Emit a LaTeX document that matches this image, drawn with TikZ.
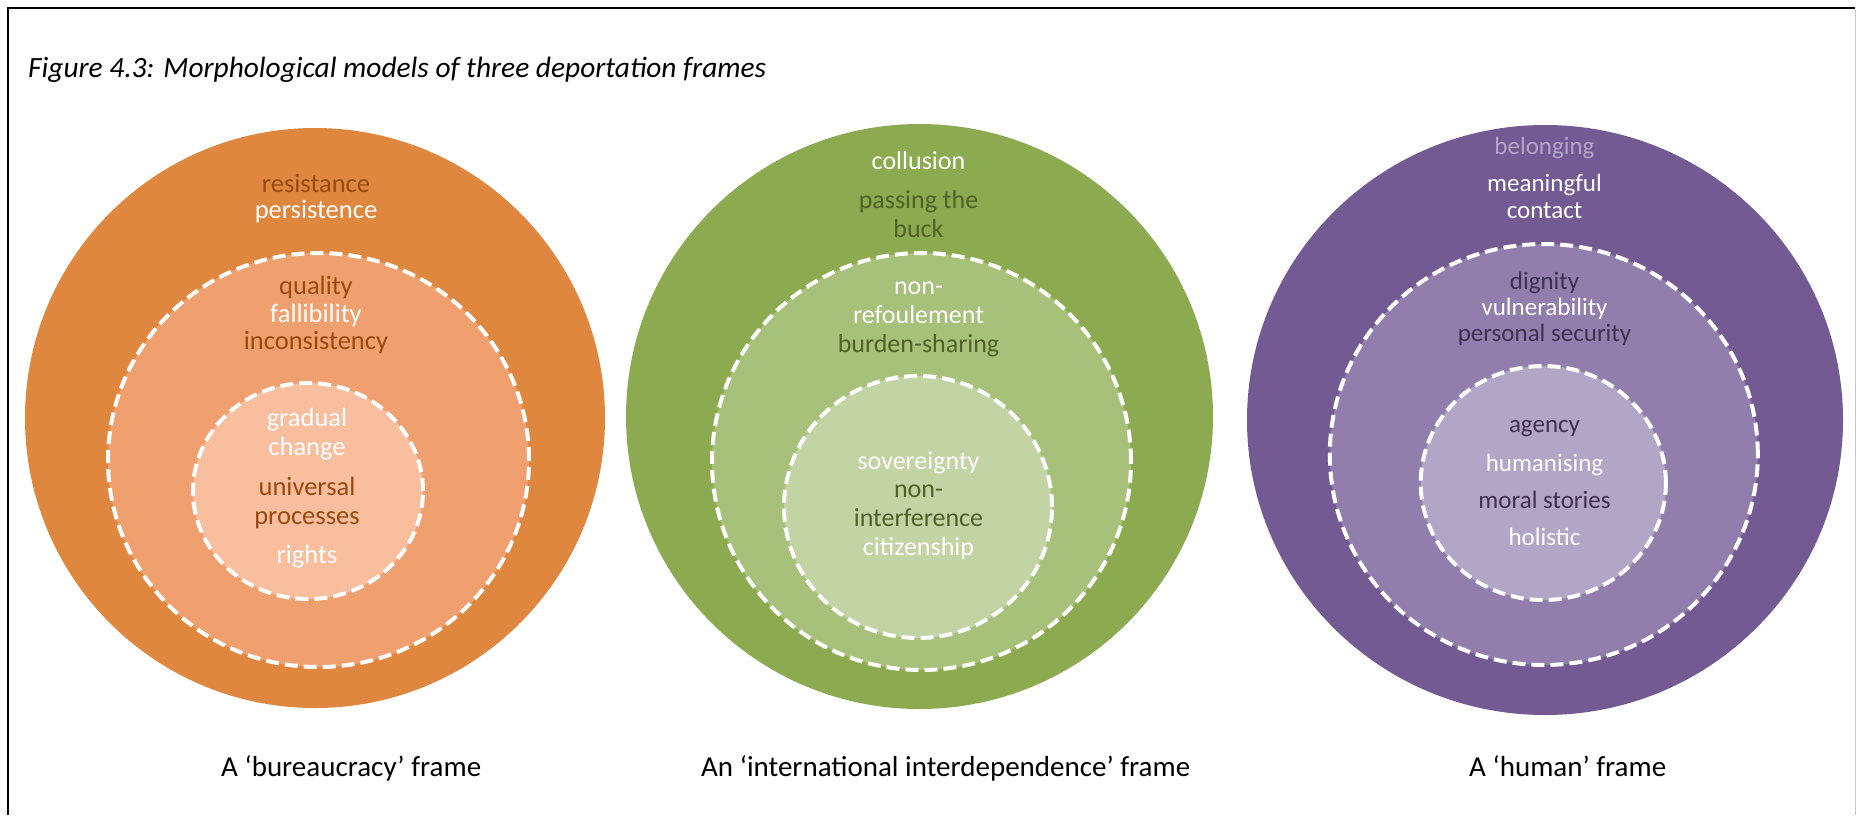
\documentclass[tikz,border=0pt]{standalone}
\usepackage{fontspec}
\setmainfont{Carlito}
% palette
\definecolor{orOuter}{HTML}{E0873F}
\definecolor{orMid}{HTML}{EFA06E}
\definecolor{orIn}{HTML}{F8BE9D}
\definecolor{orDark}{HTML}{9A4A10}
\definecolor{grOuter}{HTML}{8CAA50}
\definecolor{grMid}{HTML}{A7C07A}
\definecolor{grIn}{HTML}{C2D3A4}
\definecolor{grDark}{HTML}{4F6228}
\definecolor{puOuter}{HTML}{735A92}
\definecolor{puMid}{HTML}{917EAD}
\definecolor{puIn}{HTML}{B2A6C7}
\definecolor{puDark}{HTML}{3F3151}
\definecolor{puLight}{HTML}{B4A3C9}
\begin{document}
\begin{tikzpicture}[x=1pt,y=-1pt,
  lbl/.style={inner sep=0pt, align=center, font=\fontsize{26}{28.5}\selectfont},
  lblB/.style={lbl, font=\fontsize{26.5}{29}\selectfont},
  lblH/.style={lbl, font=\fontsize{25}{27}\selectfont},
  ring/.style={draw=white, line width=4pt, dash pattern=on 13pt off 6pt},
  captext/.style={inner sep=0pt, anchor=base west, font=\fontsize{29}{34}\selectfont}]
\useasboundingbox (0,0) rectangle (1856,815);
\fill[white] (0,0) rectangle (1856,815);

% page frame
\draw[black, line width=2.5pt] (8,815) -- (8,8) -- (1855,8);
\draw[black!22, line width=1pt] (1855,9.5) -- (1855,815);

% title
\node[captext, font=\fontsize{29.4}{34}\selectfont\itshape] (title) at (28,77)
  {Figure 4.3: Morphological models of three deportation frames};

% ---------- bureaucracy frame ----------
\fill[orOuter] (315,418) ellipse [x radius=290pt, y radius=290pt];
\fill[orMid] (318.5,460) ellipse [x radius=210.5pt, y radius=207pt];
\draw[ring] (318.5,460) ellipse [x radius=210.5pt, y radius=207pt];
\fill[orIn] (308,491) ellipse [x radius=115pt, y radius=108pt];
\draw[ring] (308,491) ellipse [x radius=115pt, y radius=108pt];

\node[lblB, text=orDark] (b1) at (316,183) {resistance};
\node[lblB, text=white]  (b2) at (316,212) {persistence};
\node[lblB, text=orDark] (b3) at (316,287) {quality};
\node[lblB, text=white]  (b4) at (316,315) {fallibility};
\node[lblB, text=orDark] (b5) at (316,343) {inconsistency};
\node[lblB, text=white]  (b6) at (307,434.5) {gradual\\change};
\node[lblB, text=orDark] (b7) at (307,502.5) {universal\\processes};
\node[lblB, text=white]  (b8) at (307,557) {rights};
\node[captext] (capB) at (221,776) {A ‘bureaucracy’ frame};

% ---------- international interdependence frame ----------
\fill[grOuter] (919.5,416.5) ellipse [x radius=293.5pt, y radius=292.5pt];
\fill[grMid] (921.5,461.5) ellipse [x radius=209.5pt, y radius=208.5pt];
\draw[ring] (921.5,461.5) ellipse [x radius=209.5pt, y radius=208.5pt];
\fill[grIn] (918,507) ellipse [x radius=134pt, y radius=131pt];
\draw[ring] (918,507) ellipse [x radius=134pt, y radius=131pt];

\node[lbl, text=white]  (i1) at (918.5,161) {collusion};
\node[lbl, text=grDark] (i2) at (918.5,214) {passing the\\buck};
\node[lbl, text=white]  (i3) at (918.5,303) {non-\\refoulement};
\node[lbl, text=grDark] (i4) at (918.5,346) {burden-sharing};
\node[lbl, text=white]  (i5) at (918.5,463) {sovereignty};
\node[lbl, text=grDark] (i6) at (918.5,506) {non-\\interference};
\node[lbl, text=white]  (i7) at (918.5,549) {citizenship};
\node[captext] (capI) at (701,776) {An ‘international interdependence’ frame};

% ---------- human frame ----------
\fill[puOuter] (1545,420) ellipse [x radius=298pt, y radius=295pt];
\fill[puMid] (1543.8,454.5) ellipse [x radius=214pt, y radius=210.5pt];
\draw[ring] (1543.8,454.5) ellipse [x radius=214pt, y radius=210.5pt];
\fill[puIn] (1543.3,483) ellipse [x radius=122.6pt, y radius=117pt];
\draw[ring] (1543.3,483) ellipse [x radius=122.6pt, y radius=117pt];

\node[lblH, text=puLight] (h1) at (1544.5,148) {belonging};
\node[lblH, text=white]   (h2) at (1544.5,196.5) {meaningful\\contact};
\node[lblH, text=puDark]  (h3) at (1544.5,283) {dignity};
\node[lblH, text=white]   (h4) at (1544.5,309) {vulnerability};
\node[lblH, text=puDark]  (h5) at (1544.5,335) {personal security};
\node[lblH, text=puDark]  (h6) at (1544.5,429) {agency};
\node[lblH, text=white]   (h7) at (1544.5,465) {humanising};
\node[lblH, text=puDark]  (h8) at (1544.5,500) {moral stories};
\node[lblH, text=white]   (h9) at (1544.5,537) {holistic};
\node[captext] (capH) at (1469,776) {A ‘human’ frame};
\end{tikzpicture}
\end{document}
